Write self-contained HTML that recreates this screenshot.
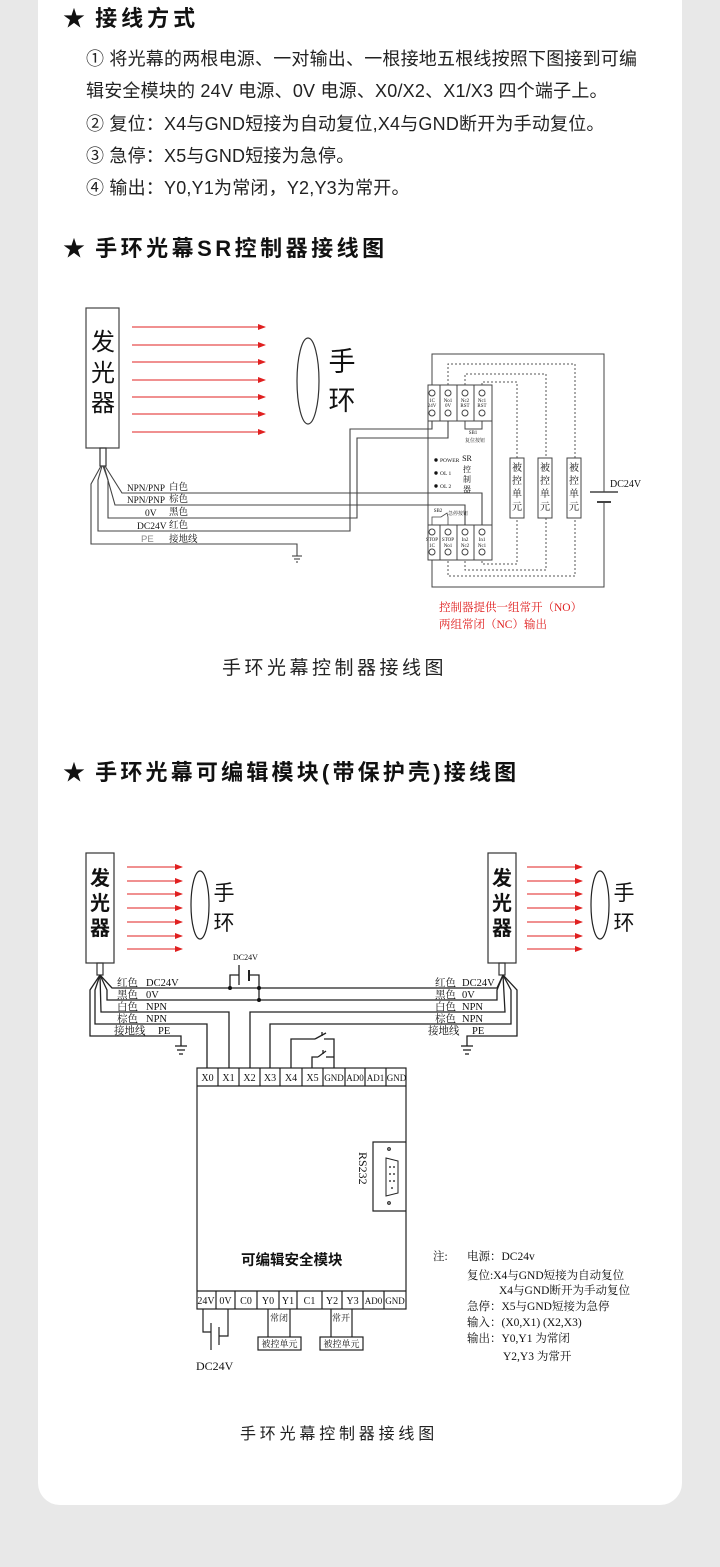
<!DOCTYPE html>
<html><head><meta charset="utf-8">
<style>
html,body{margin:0;padding:0;background:#e8e8e8;}
#wrap{position:relative;width:720px;height:1567px;overflow:hidden;background:#e8e8e8;}
#card{position:absolute;left:38px;top:-30px;width:644px;height:1535px;background:#fff;border-radius:22px;}
svg{position:absolute;left:0;top:0;}
.h{font-family:"Liberation Sans","Noto Sans CJK SC",sans-serif;font-weight:bold;fill:#111;}
.p{font-family:"Liberation Sans","Noto Sans CJK SC",sans-serif;fill:#222;}
.s{font-family:"Liberation Serif","Noto Serif CJK SC",serif;fill:#111;}
.k{font-family:"Liberation Sans","Noto Sans CJK SC",sans-serif;fill:#111;}
</style></head><body><div id="wrap"><div id="card"></div>
<svg width="720" height="1567" viewBox="0 0 720 1567">
<defs>
<marker id="ar" markerWidth="8" markerHeight="6" refX="7" refY="3" orient="auto" markerUnits="userSpaceOnUse"><path d="M0,0 L8,3 L0,6z" fill="#e02020"/></marker>
</defs>
<!-- Header text -->
<text class="h" x="63" y="26" font-size="22">★ <tspan dx="4" letter-spacing="4">接线方式</tspan></text>
<g class="p" font-size="18" letter-spacing="0.2">
<text x="86" y="65">① 将光幕的两根电源、一对输出、一根接地五根线按照下图接到可编</text>
<text x="86" y="97">辑安全模块的 24V 电源、0V 电源、X0/X2、X1/X3 四个端子上。</text>
<text x="86" y="130">② 复位：X4与GND短接为自动复位,X4与GND断开为手动复位。</text>
<text x="86" y="162">③ 急停：X5与GND短接为急停。</text>
<text x="86" y="194">④ 输出：Y0,Y1为常闭，Y2,Y3为常开。</text>
</g>
<text class="h" x="63" y="256" font-size="22">★ <tspan dx="4" letter-spacing="3.5">手环光幕SR控制器接线图</tspan></text>

<!-- SR diagram -->
<g stroke="#333" fill="none" stroke-width="1.2">
<rect x="86" y="308" width="33" height="140" stroke="#444"/>
<rect x="100" y="448" width="6" height="18"/>
</g>
<g class="k" font-size="24" text-anchor="middle"><text x="103" y="350">发</text><text x="103" y="381">光</text><text x="103" y="411">器</text></g>
<g stroke="#e02020" stroke-width="1" marker-end="url(#ar)">
<line x1="132" y1="327" x2="265" y2="327"/><line x1="132" y1="345" x2="265" y2="345"/><line x1="132" y1="362" x2="265" y2="362"/><line x1="132" y1="380" x2="265" y2="380"/><line x1="132" y1="397" x2="265" y2="397"/><line x1="132" y1="414" x2="265" y2="414"/><line x1="132" y1="432" x2="265" y2="432"/>
</g>
<ellipse cx="308" cy="381" rx="11" ry="43" fill="none" stroke="#333" stroke-width="1.2"/>
<g class="k" font-size="27" text-anchor="middle"><text x="342" y="371">手</text><text x="342" y="410">环</text></g>
<g stroke="#444" fill="none" stroke-width="1.1">
<polyline points="105,466 122,493 482,493 482,525"/>
<polyline points="104,466 115,505 465,505 465,525"/>
<polyline points="103,466 108,480 108,518 357,518 357,438 448,438 448,421"/>
<polyline points="102,466 98,480 98,531 350,531 350,429 432,429 432,421"/>
<polyline points="101,466 91,484 91,544 297,544 297,556"/>
<line x1="292" y1="556" x2="302" y2="556"/><line x1="294" y1="559" x2="300" y2="559"/><line x1="296" y1="562" x2="298" y2="562"/>
</g>
<g class="s" font-size="9.5">
<text x="127" y="491" textLength="38" lengthAdjust="spacingAndGlyphs">NPN/PNP</text><text x="169" y="490">白色</text>
<text x="127" y="503" textLength="38" lengthAdjust="spacingAndGlyphs">NPN/PNP</text><text x="169" y="502">棕色</text>
<text x="145" y="516">0V</text><text x="169" y="515">黑色</text>
<text x="137" y="529">DC24V</text><text x="169" y="528">红色</text>
<text x="141" y="542" fill="#888" font-family="Liberation Sans,sans-serif">PE</text><text x="169" y="542">接地线</text>
</g>
<!-- controller -->
<g stroke="#444" fill="none" stroke-width="1">
<polyline points="432,385 432,354 604,354 604,492"/>
<polyline points="604,502 604,587 432,587 432,560"/>
<line x1="590" y1="492" x2="618" y2="492" stroke-width="1.4"/>
<line x1="597" y1="502" x2="611" y2="502" stroke-width="2"/>
<rect x="428" y="385" width="64" height="175"/>
<line x1="428" y1="421" x2="492" y2="421"/><line x1="428" y1="525" x2="492" y2="525"/>
<line x1="440" y1="385" x2="440" y2="421"/><line x1="457" y1="385" x2="457" y2="421"/><line x1="474" y1="385" x2="474" y2="421"/>
<line x1="440" y1="525" x2="440" y2="560"/><line x1="457" y1="525" x2="457" y2="560"/><line x1="474" y1="525" x2="474" y2="560"/>
<circle cx="432" cy="393" r="3"/><circle cx="448" cy="393" r="3"/><circle cx="465" cy="393" r="3"/><circle cx="482" cy="393" r="3"/>
<circle cx="432" cy="413" r="3"/><circle cx="448" cy="413" r="3"/><circle cx="465" cy="413" r="3"/><circle cx="482" cy="413" r="3"/>
<circle cx="432" cy="532" r="3"/><circle cx="448" cy="532" r="3"/><circle cx="465" cy="532" r="3"/><circle cx="482" cy="532" r="3"/>
<circle cx="432" cy="552" r="3"/><circle cx="448" cy="552" r="3"/><circle cx="465" cy="552" r="3"/><circle cx="482" cy="552" r="3"/>
<polyline points="465,421 465,429 482,429 482,421"/>
<polyline points="432,525 432,517 441,517 447,513 448,517 448,525" stroke-width="0.8"/>
</g>
<g stroke="#555" fill="none" stroke-width="1" stroke-dasharray="2,2">
<polyline points="448,385 448,364 575,364 575,576 448,576 448,560"/>
<polyline points="465,385 465,374 546,374 546,570 465,570 465,560"/>
<polyline points="482,385 482,382 517,382 517,564 482,564 482,560"/>
</g>
<g stroke="#444" fill="#fff" stroke-width="1">
<rect x="510" y="458" width="14" height="60"/><rect x="538" y="458" width="14" height="60"/><rect x="567" y="458" width="14" height="60"/>
</g>
<g class="s" font-size="10" text-anchor="middle">
<text x="517" y="471">被</text><text x="517" y="484">控</text><text x="517" y="497">单</text><text x="517" y="510">元</text>
<text x="545" y="471">被</text><text x="545" y="484">控</text><text x="545" y="497">单</text><text x="545" y="510">元</text>
<text x="574" y="471">被</text><text x="574" y="484">控</text><text x="574" y="497">单</text><text x="574" y="510">元</text>
</g>
<g class="s" font-size="5" text-anchor="middle">
<text x="432" y="402">1C</text><text x="448" y="402">No1</text><text x="465" y="402">Nc2</text><text x="482" y="402">Nc1</text>
<text x="432" y="407">24V</text><text x="448" y="407">0V</text><text x="465" y="407">RST</text><text x="482" y="407">RST</text>
<text x="432" y="541">STOP</text><text x="448" y="541">STOP</text><text x="465" y="541">In2</text><text x="482" y="541">In1</text>
<text x="432" y="547">1C</text><text x="448" y="547">No1</text><text x="465" y="547">Nc2</text><text x="482" y="547">Nc1</text>
<text x="473" y="434">SB1</text><text x="475" y="442">复位按钮</text>
<text x="438" y="512">SB2</text><text x="458" y="515">急停按钮</text>
</g>
<g class="s" font-size="5.5">
<circle cx="436" cy="460" r="1.7" fill="#111"/><text x="440" y="462">POWER</text>
<circle cx="436" cy="473" r="1.7" fill="#111"/><text x="440" y="475">OL 1</text>
<circle cx="436" cy="486" r="1.7" fill="#111"/><text x="440" y="488">OL 2</text>
</g>
<g class="s" font-size="8" text-anchor="middle"><text x="467" y="461">SR</text><text x="467" y="472">控</text><text x="467" y="482">制</text><text x="467" y="492">器</text></g>
<text class="s" x="610" y="487" font-size="10">DC24V</text>
<g class="s" font-size="11.5" style="fill:#e02020"><text x="439" y="611">控制器提供一组常开（NO）</text><text x="439" y="628">两组常闭（NC）输出</text></g>
<text class="p" x="222" y="674" font-size="19" letter-spacing="3.5">手环光幕控制器接线图</text>

<text class="h" x="63" y="780" font-size="22">★ <tspan dx="4" letter-spacing="3.2">手环光幕可编辑模块(带保护壳)接线图</tspan></text>

<!-- Bottom diagram -->
<g stroke="#333" fill="none" stroke-width="1.2">
<rect x="86" y="853" width="28" height="110"/><rect x="97" y="963" width="6" height="12"/>
<rect x="488" y="853" width="28" height="110"/><rect x="499" y="963" width="6" height="12"/>
</g>
<g class="k" font-size="20" text-anchor="middle" font-weight="bold">
<text x="100" y="885">发</text><text x="100" y="910">光</text><text x="100" y="935">器</text>
<text x="502" y="885">发</text><text x="502" y="910">光</text><text x="502" y="935">器</text>
</g>
<g stroke="#e02020" stroke-width="1" marker-end="url(#ar)">
<line x1="127" y1="867" x2="182" y2="867"/><line x1="127" y1="881" x2="182" y2="881"/><line x1="127" y1="894" x2="182" y2="894"/><line x1="127" y1="908" x2="182" y2="908"/><line x1="127" y1="922" x2="182" y2="922"/><line x1="127" y1="936" x2="182" y2="936"/><line x1="127" y1="949" x2="182" y2="949"/>
<line x1="527" y1="867" x2="582" y2="867"/><line x1="527" y1="881" x2="582" y2="881"/><line x1="527" y1="894" x2="582" y2="894"/><line x1="527" y1="908" x2="582" y2="908"/><line x1="527" y1="922" x2="582" y2="922"/><line x1="527" y1="936" x2="582" y2="936"/><line x1="527" y1="949" x2="582" y2="949"/>
</g>
<ellipse cx="200" cy="905" rx="9" ry="34" fill="none" stroke="#222" stroke-width="1.2"/>
<ellipse cx="600" cy="905" rx="9" ry="34" fill="none" stroke="#222" stroke-width="1.2"/>
<g class="k" font-size="21" text-anchor="middle"><text x="224" y="900">手</text><text x="224" y="930">环</text><text x="624" y="900">手</text><text x="624" y="930">环</text></g>
<g stroke="#222" fill="none" stroke-width="1.3">
<polyline points="100,975 112,988 497,988 503,975"/>
<polyline points="100,975 107,990 107,1000 497,1000 497,990 503,975"/>
<polyline points="100,975 101,1012 229,1012 229,1068"/>
<polyline points="100,975 95,990 95,1024 207,1024 207,1068"/>
<polyline points="100,975 90,990 90,1036 181,1036 181,1046"/>
<polyline points="503,975 505,1012 250,1012 250,1068"/>
<polyline points="503,975 511,990 511,1024 270,1024 270,1068"/>
<polyline points="503,975 517,990 517,1036 467,1036 467,1046"/>
<line x1="175" y1="1046" x2="187" y2="1046"/><line x1="177" y1="1050" x2="185" y2="1050"/><line x1="179" y1="1054" x2="183" y2="1054"/>
<line x1="461" y1="1046" x2="473" y2="1046"/><line x1="463" y1="1050" x2="471" y2="1050"/><line x1="465" y1="1054" x2="469" y2="1054"/>
<polyline points="230,988 230,975 239,975"/><line x1="239" y1="965" x2="239" y2="985"/><line x1="249" y1="970" x2="249" y2="981" stroke-width="2"/>
<polyline points="249,975 259,975 259,1000"/>
<polyline points="291,1068 291,1039 315,1039"/><line x1="315" y1="1039" x2="326" y2="1033"/><line x1="322" y1="1036" x2="322" y2="1032"/><polyline points="324,1039 334,1039 334,1068"/>
<polyline points="312,1068 312,1057 318,1057"/><line x1="318" y1="1057" x2="326" y2="1051"/><line x1="323" y1="1054" x2="323" y2="1050"/><polyline points="326,1057 334,1057"/>
</g>
<g fill="#111"><circle cx="230" cy="988" r="2"/><circle cx="259" cy="988" r="2"/><circle cx="259" cy="1000" r="2"/></g>
<text class="s" x="233" y="960" font-size="8">DC24V</text>
<g class="s" font-size="10.5">
<text x="117" y="986">红色</text><text x="146" y="986">DC24V</text>
<text x="117" y="998">黑色</text><text x="146" y="998">0V</text>
<text x="117" y="1010">白色</text><text x="146" y="1010">NPN</text>
<text x="117" y="1022">棕色</text><text x="146" y="1022">NPN</text>
<text x="114" y="1034">接地线</text><text x="158" y="1034">PE</text>
<text x="435" y="986">红色</text><text x="462" y="986">DC24V</text>
<text x="435" y="998">黑色</text><text x="462" y="998">0V</text>
<text x="435" y="1010">白色</text><text x="462" y="1010">NPN</text>
<text x="435" y="1022">棕色</text><text x="462" y="1022">NPN</text>
<text x="428" y="1034">接地线</text><text x="472" y="1034">PE</text>
</g>
<!-- module -->
<g stroke="#222" fill="none" stroke-width="1.2">
<rect x="197" y="1068" width="209" height="241"/>
<line x1="197" y1="1086" x2="406" y2="1086"/>
<line x1="218" y1="1068" x2="218" y2="1086"/><line x1="239" y1="1068" x2="239" y2="1086"/><line x1="260" y1="1068" x2="260" y2="1086"/><line x1="280" y1="1068" x2="280" y2="1086"/><line x1="302" y1="1068" x2="302" y2="1086"/><line x1="323" y1="1068" x2="323" y2="1086"/><line x1="345" y1="1068" x2="345" y2="1086"/><line x1="365" y1="1068" x2="365" y2="1086"/><line x1="386" y1="1068" x2="386" y2="1086"/>
<line x1="197" y1="1291" x2="406" y2="1291"/>
<line x1="216" y1="1291" x2="216" y2="1309"/><line x1="235" y1="1291" x2="235" y2="1309"/><line x1="257" y1="1291" x2="257" y2="1309"/><line x1="279" y1="1291" x2="279" y2="1309"/><line x1="297" y1="1291" x2="297" y2="1309"/><line x1="322" y1="1291" x2="322" y2="1309"/><line x1="342" y1="1291" x2="342" y2="1309"/><line x1="363" y1="1291" x2="363" y2="1309"/><line x1="384" y1="1291" x2="384" y2="1309"/>
<polyline points="406,1142 373,1142 373,1211 406,1211"/>
<path d="M386,1158 L398,1161 L398,1193 L386,1196 Z" stroke-width="1"/>
<circle cx="389" cy="1149" r="1.3"/><circle cx="389" cy="1203" r="1.3"/>
<polyline points="203,1309 203,1332 211,1332"/><line x1="211" y1="1323" x2="211" y2="1350"/><line x1="219" y1="1327" x2="219" y2="1345"/><polyline points="219,1336 228,1336 228,1309"/>
<line x1="268" y1="1309" x2="268" y2="1337"/><line x1="290" y1="1309" x2="290" y2="1337"/>
<line x1="331" y1="1309" x2="331" y2="1337"/><line x1="352" y1="1309" x2="352" y2="1337"/>
<rect x="258" y="1337" width="43" height="13"/><rect x="320" y="1337" width="43" height="13"/>
</g>
<g fill="#444"><circle cx="390" cy="1167" r="1"/><circle cx="394" cy="1167" r="1"/><circle cx="390" cy="1174" r="1"/><circle cx="394" cy="1174" r="1"/><circle cx="390" cy="1181" r="1"/><circle cx="394" cy="1181" r="1"/><circle cx="392" cy="1188" r="1"/></g>
<g class="s" font-size="10" text-anchor="middle">
<text x="207.5" y="1081">X0</text><text x="228.5" y="1081">X1</text><text x="249.5" y="1081">X2</text><text x="270" y="1081">X3</text><text x="291" y="1081">X4</text><text x="312.5" y="1081">X5</text><text x="334" y="1081" font-size="9">GND</text><text x="355" y="1081" font-size="9">AD0</text><text x="375.5" y="1081" font-size="9">AD1</text><text x="396.5" y="1081" font-size="9">GND</text>
<text x="206" y="1304">24V</text><text x="225.5" y="1304">0V</text><text x="246" y="1304">C0</text><text x="268" y="1304">Y0</text><text x="288" y="1304">Y1</text><text x="309.5" y="1304">C1</text><text x="332" y="1304">Y2</text><text x="352.5" y="1304">Y3</text><text x="373.5" y="1304" font-size="9">AD0</text><text x="395" y="1304" font-size="9">GND</text>
<text x="279" y="1321" font-size="9">常闭</text><text x="341" y="1321" font-size="9">常开</text>
<text x="279.5" y="1347" font-size="9">被控单元</text><text x="341.5" y="1347" font-size="9">被控单元</text>
</g>
<text class="s" font-size="12" transform="translate(359,1152) rotate(90)">RS232</text>
<text class="h" x="241" y="1265" font-size="14.5">可编辑安全模块</text>
<text class="s" x="196" y="1370" font-size="12">DC24V</text>
<g class="s" font-size="11.5">
<text x="433" y="1260">注:</text><text x="467" y="1260">电源：DC24v</text>
<text x="467" y="1279">复位:X4与GND短接为自动复位</text>
<text x="499" y="1294">X4与GND断开为手动复位</text>
<text x="467" y="1310">急停：X5与GND短接为急停</text>
<text x="467" y="1326">输入：(X0,X1) (X2,X3)</text>
<text x="467" y="1342">输出：Y0,Y1 为常闭</text>
<text x="503" y="1360">Y2,Y3 为常开</text>
</g>
<text class="p" x="240" y="1439" font-size="16" letter-spacing="3.8">手环光幕控制器接线图</text>
</svg></div></body></html>
